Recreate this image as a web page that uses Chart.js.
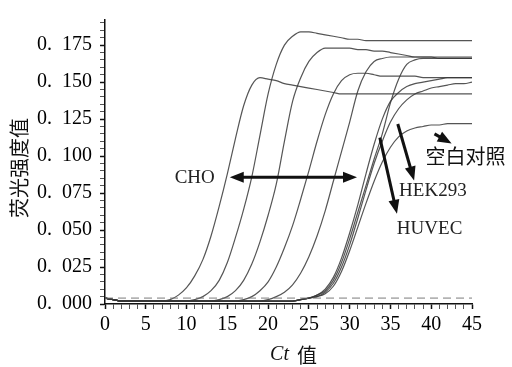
<!DOCTYPE html>
<html>
<head>
<meta charset="utf-8">
<script src="https://cdn.jsdelivr.net/npm/chart.js@4.4.0/dist/chart.umd.min.js"></script>
<style>
  html, body { margin: 0; padding: 0; background: #fff; }
  #wrap { width: 512px; height: 367px; }
</style>
</head>
<body>
<div id="wrap"><canvas id="c"></canvas></div>
<script>
// 循环数 (Ct)
const cycles = [0, 1, 2, 3, 4, 5, 6, 7, 8, 9,
  10, 11, 12, 13, 14, 15, 16, 17, 18, 19,
  20, 21, 22, 23, 24, 25, 26, 27, 28, 29,
  30, 31, 32, 33, 34, 35, 36, 37, 38, 39,
  40, 41, 42, 43, 44, 45];

// CHO 组五条曲线
const cho1 = [0.004, 0.003, 0.002, 0.002, 0.002, 0.002, 0.002, 0.002, 0.003, 0.006,
  0.011, 0.019, 0.030, 0.046, 0.066, 0.088, 0.112, 0.134, 0.148, 0.153,
  0.152, 0.151, 0.149, 0.148, 0.147, 0.146, 0.145, 0.144, 0.143, 0.142,
  0.142, 0.142, 0.142, 0.142, 0.142, 0.142, 0.142, 0.142, 0.142, 0.142,
  0.142, 0.142, 0.142, 0.142, 0.142, 0.142];
const cho2 = [0.004, 0.003, 0.002, 0.002, 0.002, 0.002, 0.002, 0.002, 0.002, 0.002,
  0.002, 0.003, 0.005, 0.009, 0.016, 0.028, 0.045, 0.064, 0.086, 0.114,
  0.142, 0.162, 0.175, 0.181, 0.184, 0.184, 0.183, 0.182, 0.181, 0.180,
  0.179, 0.179, 0.178, 0.178, 0.178, 0.178, 0.178, 0.178, 0.178, 0.178,
  0.178, 0.178, 0.178, 0.178, 0.178, 0.178];
const cho3 = [0.004, 0.003, 0.002, 0.002, 0.002, 0.002, 0.002, 0.002, 0.002, 0.002,
  0.002, 0.002, 0.002, 0.002, 0.003, 0.005, 0.009, 0.016, 0.027, 0.042,
  0.060, 0.081, 0.110, 0.137, 0.153, 0.164, 0.170, 0.173, 0.173, 0.173,
  0.173, 0.172, 0.172, 0.171, 0.171, 0.170, 0.169, 0.168, 0.167, 0.167,
  0.167, 0.167, 0.167, 0.167, 0.167, 0.167];
const cho4 = [0.004, 0.003, 0.002, 0.002, 0.002, 0.002, 0.002, 0.002, 0.002, 0.002,
  0.002, 0.002, 0.002, 0.002, 0.002, 0.002, 0.002, 0.003, 0.005, 0.009,
  0.015, 0.025, 0.038, 0.053, 0.071, 0.090, 0.110, 0.128, 0.142, 0.151,
  0.155, 0.156, 0.156, 0.155, 0.154, 0.154, 0.154, 0.154, 0.154, 0.153,
  0.153, 0.153, 0.153, 0.153, 0.153, 0.153];
const cho5 = [0.004, 0.003, 0.002, 0.002, 0.002, 0.002, 0.002, 0.002, 0.002, 0.002,
  0.002, 0.002, 0.002, 0.002, 0.002, 0.002, 0.002, 0.002, 0.002, 0.002,
  0.003, 0.005, 0.008, 0.013, 0.021, 0.032, 0.046, 0.063, 0.083, 0.103,
  0.123, 0.144, 0.157, 0.164, 0.166, 0.167, 0.167, 0.167, 0.167, 0.167,
  0.167, 0.166, 0.166, 0.166, 0.166, 0.166];

// HEK293 / HUVEC 组
const hek1 = [0.004, 0.003, 0.002, 0.002, 0.002, 0.002, 0.002, 0.002, 0.002, 0.002,
  0.002, 0.002, 0.002, 0.002, 0.002, 0.002, 0.002, 0.002, 0.002, 0.002,
  0.002, 0.002, 0.002, 0.002, 0.003, 0.004, 0.006, 0.009, 0.016, 0.028,
  0.044, 0.062, 0.080, 0.098, 0.115, 0.136, 0.152, 0.162, 0.165, 0.166,
  0.166, 0.166, 0.166, 0.166, 0.166, 0.166];
const hek2 = [0.004, 0.003, 0.002, 0.002, 0.002, 0.002, 0.002, 0.002, 0.002, 0.002,
  0.002, 0.002, 0.002, 0.002, 0.002, 0.002, 0.002, 0.002, 0.002, 0.002,
  0.002, 0.002, 0.002, 0.002, 0.003, 0.004, 0.006, 0.010, 0.018, 0.031,
  0.048, 0.067, 0.088, 0.108, 0.125, 0.137, 0.143, 0.147, 0.149, 0.150,
  0.151, 0.152, 0.153, 0.153, 0.153, 0.153];
const huvec = [0.004, 0.003, 0.002, 0.002, 0.002, 0.002, 0.002, 0.002, 0.002, 0.002,
  0.002, 0.002, 0.002, 0.002, 0.002, 0.002, 0.002, 0.002, 0.002, 0.002,
  0.002, 0.002, 0.002, 0.002, 0.003, 0.004, 0.005, 0.008, 0.014, 0.025,
  0.040, 0.058, 0.077, 0.095, 0.110, 0.123, 0.132, 0.138, 0.142, 0.144,
  0.146, 0.147, 0.148, 0.149, 0.149, 0.150];
// 空白对照
const blank = [0.004, 0.003, 0.002, 0.002, 0.002, 0.002, 0.002, 0.002, 0.002, 0.002,
  0.002, 0.002, 0.002, 0.002, 0.002, 0.002, 0.002, 0.002, 0.002, 0.002,
  0.002, 0.002, 0.002, 0.002, 0.003, 0.004, 0.005, 0.007, 0.012, 0.022,
  0.036, 0.052, 0.068, 0.083, 0.096, 0.106, 0.113, 0.117, 0.119, 0.120,
  0.121, 0.121, 0.122, 0.122, 0.122, 0.122];

// 阈值线
const threshold = 0.004;

const serif = '"Liberation Serif", "Times New Roman", serif';
const cjk = '"Noto Sans CJK SC", sans-serif';

// 注释位置 (数据坐标)
const notes = {
  cho:   { text: 'CHO', x: 11.0, y: 0.0855 },
  hek:   { text: 'HEK293', x: 40.2, y: 0.0765 },
  huvec: { text: 'HUVEC', x: 39.8, y: 0.051 },
  blank: { text: '空白对照', x: 44.2, y: 0.0995 }
};
const arrows = [
  { from: [15.3, 0.0857], to: [30.9, 0.0857], both: true },
  { from: [35.9, 0.1217], to: [37.9, 0.0835], both: false },
  { from: [33.7, 0.1125], to: [35.8, 0.0610], both: false },
  { from: [40.4, 0.1150], to: [42.5, 0.1085], both: false }
];

function pts(arr) {
  return cycles.map((c, i) => ({ x: c, y: arr[i] }));
}

function curve(arr) {
  return {
    data: pts(arr),
    borderColor: 'rgba(55, 55, 55, 0.85)',
    borderWidth: 1.2,
    pointRadius: 0,
    cubicInterpolationMode: 'monotone',
    fill: false
  };
}

function arrowHead(ctx, x1, y1, x2, y2, len, w) {
  const a = Math.atan2(y2 - y1, x2 - x1);
  ctx.beginPath();
  ctx.moveTo(x2, y2);
  ctx.lineTo(x2 - len * Math.cos(a) + w / 2 * Math.sin(a), y2 - len * Math.sin(a) - w / 2 * Math.cos(a));
  ctx.lineTo(x2 - len * Math.cos(a) - w / 2 * Math.sin(a), y2 - len * Math.sin(a) + w / 2 * Math.cos(a));
  ctx.closePath();
  ctx.fill();
}

const annotate = {
  id: 'annotate',
  afterDraw(chart) {
    const { ctx, chartArea, scales } = chart;
    const sx = scales.x, sy = scales.y;

    // y 轴标题
    ctx.save();
    ctx.translate(19, (chartArea.top + chartArea.bottom) / 2 + 6);
    ctx.rotate(-Math.PI / 2);
    ctx.font = '20px ' + cjk;
    ctx.fillStyle = '#111';
    ctx.textAlign = 'center';
    ctx.textBaseline = 'middle';
    ctx.fillText('荧光强度值', 0, 0);
    ctx.restore();

    // x 轴标题  "Ct 值"
    ctx.save();
    ctx.fillStyle = '#111';
    ctx.textBaseline = 'middle';
    ctx.textAlign = 'left';
    ctx.font = 'italic 20px ' + serif;
    const w1 = ctx.measureText('Ct').width;
    ctx.font = '20px ' + cjk;
    const w2 = ctx.measureText('值').width;
    const gap = 8;
    let tx = (chartArea.left + chartArea.right) / 2 - (w1 + gap + w2) / 2 + 5;
    const ty = 355;
    ctx.font = 'italic 20px ' + serif;
    ctx.fillText('Ct', tx, ty);
    ctx.font = '20px ' + cjk;
    ctx.fillText('值', tx + w1 + gap, ty);
    ctx.restore();

    // 箭头
    ctx.save();
    ctx.strokeStyle = '#111';
    ctx.fillStyle = '#111';
    ctx.lineWidth = 3;
    arrows.forEach(a => {
      const x1 = sx.getPixelForValue(a.from[0]), y1 = sy.getPixelForValue(a.from[1]);
      const x2 = sx.getPixelForValue(a.to[0]), y2 = sy.getPixelForValue(a.to[1]);
      const len = 14, w = 11;
      const ang = Math.atan2(y2 - y1, x2 - x1);
      ctx.beginPath();
      ctx.moveTo(a.both ? x1 + (len - 2) * Math.cos(ang) : x1, a.both ? y1 + (len - 2) * Math.sin(ang) : y1);
      ctx.lineTo(x2 - (len - 2) * Math.cos(ang), y2 - (len - 2) * Math.sin(ang));
      ctx.stroke();
      arrowHead(ctx, x1, y1, x2, y2, len, w);
      if (a.both) arrowHead(ctx, x2, y2, x1, y1, len, w);
    });
    ctx.restore();

    // 文字注释
    ctx.save();
    ctx.fillStyle = '#222';
    ctx.textAlign = 'center';
    ctx.textBaseline = 'middle';
    ['cho', 'hek', 'huvec'].forEach(k => {
      const n = notes[k];
      ctx.font = '19px ' + serif;
      ctx.fillText(n.text, sx.getPixelForValue(n.x), sy.getPixelForValue(n.y));
    });
    ctx.font = '20px ' + cjk;
    ctx.fillStyle = '#111';
    ctx.fillText(notes.blank.text, sx.getPixelForValue(notes.blank.x), sy.getPixelForValue(notes.blank.y));
    ctx.restore();
  }
};

const datasets = [
  {
    data: [{ x: cycles[0], y: threshold }, { x: cycles[cycles.length - 1], y: threshold }],
    borderColor: 'rgba(110, 110, 110, 0.9)',
    borderWidth: 1,
    borderDash: [8, 5],
    pointRadius: 0,
    fill: false
  },
  curve(cho1), curve(cho2), curve(cho3), curve(cho4), curve(cho5),
  curve(hek1), curve(hek2), curve(huvec), curve(blank)
];

new Chart(document.getElementById('c').getContext('2d'), {
  type: 'line',
  data: { datasets },
  options: {
    responsive: true,
    maintainAspectRatio: false,
    animation: false,
    layout: { padding: { left: 0, right: 40, top: 10, bottom: 0 } },
    plugins: {
      legend: { display: false },
      tooltip: { enabled: false }
    },
    scales: {
      x: {
        type: 'linear',
        min: 0,
        max: 45,
        afterFit: s => { s.height = 63; },
        border: { display: true, color: '#111', width: 1.5 },
        grid: {
          drawOnChartArea: false,
          drawTicks: true,
          tickLength: 5,
          tickColor: c => (c.tick && c.tick.value % 5 === 0) ? '#111' : '#555',
          tickWidth: c => (c.tick && c.tick.value % 5 === 0) ? 1.5 : 1
        },
        ticks: {
          stepSize: 1,
          autoSkip: false,
          maxRotation: 0,
          padding: 4,
          color: '#000',
          font: { family: serif, size: 20 },
          callback: v => (v % 5 === 0 ? String(v) : '')
        }
      },
      y: {
        min: 0,
        max: 0.192,
        afterFit: s => { s.width = 105; },
        border: { display: true, color: '#111', width: 1.5 },
        grid: {
          drawOnChartArea: false,
          drawTicks: true,
          tickLength: 5,
          tickColor: c => (c.tick && Math.round(c.tick.value * 1000) % 25 === 0) ? '#111' : '#555',
          tickWidth: c => (c.tick && Math.round(c.tick.value * 1000) % 25 === 0) ? 1.5 : 1
        },
        ticks: {
          stepSize: 0.005,
          includeBounds: false,
          autoSkip: false,
          padding: 8,
          color: '#000',
          font: { family: serif, size: 20 },
          callback: v => {
            const m = Math.round(v * 1000);
            if (m % 25 !== 0) return '';
            return '0.\u2002' + String(m).padStart(3, '0');
          }
        }
      }
    }
  },
  plugins: [annotate]
});
</script>
</body>
</html>
